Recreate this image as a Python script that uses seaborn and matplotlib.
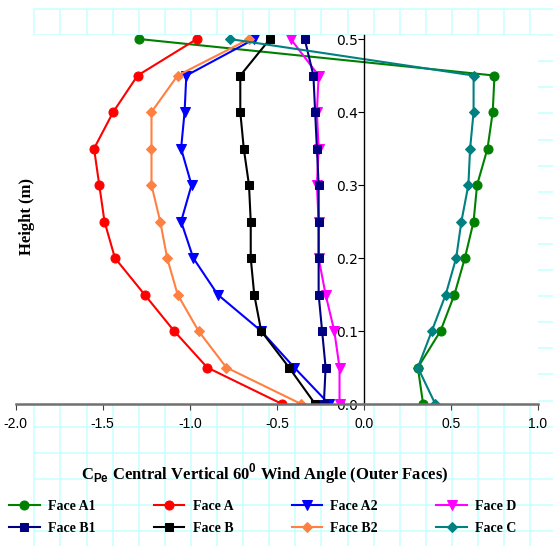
# Cpe profiles - central vertical line, 60 deg wind angle, outer faces

import numpy as np
import pandas as pd
import seaborn as sns
import matplotlib.pyplot as plt

# Data (height in m, Cpe values)
height = [0.0, 0.05, 0.10, 0.15, 0.20, 0.25, 0.30, 0.35, 0.40, 0.45, 0.50]

face_a1 = [0.34, 0.31, 0.44, 0.52, 0.58, 0.63, 0.65, 0.71, 0.74, 0.75, -1.29]
face_a = [-0.47, -0.90, -1.09, -1.26, -1.43, -1.49, -1.52, -1.55, -1.44, -1.30, -0.96]
face_a2 = [-0.20, -0.40, -0.59, -0.84, -0.98, -1.05, -0.99, -1.05, -1.03, -1.02, -0.63]
face_d = [-0.14, -0.14, -0.17, -0.22, -0.26, -0.26, -0.27, -0.26, -0.27, -0.26, -0.42]
face_b1 = [-0.23, -0.22, -0.24, -0.26, -0.26, -0.26, -0.26, -0.27, -0.28, -0.29, -0.34]
face_b = [-0.28, -0.43, -0.59, -0.63, -0.65, -0.65, -0.66, -0.69, -0.71, -0.71, -0.54]
face_b2 = [-0.36, -0.79, -0.95, -1.07, -1.13, -1.17, -1.22, -1.22, -1.22, -1.07, -0.66]
face_c = [0.41, 0.31, 0.39, 0.47, 0.53, 0.56, 0.60, 0.61, 0.63, 0.63, -0.77]

faces = ["Face A1", "Face A", "Face A2", "Face D", "Face B1", "Face B", "Face B2", "Face C"]
values = [face_a1, face_a, face_a2, face_d, face_b1, face_b, face_b2, face_c]
colors = ["#008000", "#FF0000", "#0000FF", "#FF00FF", "#000080", "#000000", "#FF8040", "#008080"]
markers = ["o", "o", "v", "v", "s", "s", "D", "D"]

df = pd.DataFrame({
    "face": np.repeat(faces, len(height)),
    "height": height * len(faces),
    "cpe": np.concatenate(values),
})

serif = "Liberation Serif"
plt.rcParams["mathtext.fontset"] = "custom"
plt.rcParams["mathtext.rm"] = "Liberation Sans:bold"

fig = plt.figure(figsize=(5.53, 5.46), dpi=100)

# graph-paper background behind the chart
bg = fig.add_axes([0, 0, 1, 1])
bg.set_xlim(0, 553)
bg.set_ylim(546, 0)
bg.axis("off")
bg.vlines(np.arange(34.3, 553, 26.1), 9, 546, color="#CCFFFF", lw=1.2)
bg.hlines(np.arange(9, 546, 26.1), 34.3, 553, color="#CCFFFF", lw=1.2)

ax = fig.add_axes([15.7 / 553, 142 / 546, 522.3 / 553, 368.6 / 546])
ax.set_facecolor("white")

sizes = {"o": 6.5, "v": 6.5, "s": 6, "D": 5.5}
handles = {}
for face, col, mk in zip(faces, colors, markers):
    sub = df[df["face"] == face]
    sns.lineplot(data=sub, x="cpe", y="height", sort=False, estimator=None,
                 color=col, marker=mk, markersize=sizes[mk], markeredgecolor=col,
                 lw=1.5, ax=ax, label=face, legend=False)
    handles[face] = ax.lines[-1]

ax.set_xlim(-2.0, 1.0)
ax.set_ylim(0, 0.505)
ax.set_xticks(np.arange(-2.0, 1.01, 0.5))
ax.set_xticklabels([f"{v:.1f}" for v in np.arange(-2.0, 1.01, 0.5)],
                   family="Liberation Sans", fontsize=10)
ax.set_yticks(np.arange(0, 0.51, 0.1))
ax.set_yticklabels([f"{v:.1f}" for v in np.arange(0, 0.51, 0.1)],
                   family=serif, fontsize=14)
ax.tick_params(axis="x", length=4, pad=5, color="#404040")
ax.tick_params(axis="y", length=4, pad=0.5)

ax.spines["top"].set_visible(False)
ax.spines["right"].set_visible(False)
ax.spines["left"].set_position(("data", 0))
ax.spines["left"].set_linewidth(1.0)
ax.spines["bottom"].set_color("#707070")
ax.spines["bottom"].set_linewidth(1.8)
ax.set_xlabel("")
ax.set_ylabel("")

fig.text(27 / 553, 1 - 217 / 546, "Height (m)", rotation=90, ha="center", va="center",
         family=serif, fontweight="bold", fontsize=12)
fig.text(265 / 553, 1 - 474 / 546,
         r"C$_{\mathrm{Pe}}$ Central Vertical 60$^{\mathrm{0}}$ Wind Angle (Outer Faces)",
         ha="center", va="center", family=serif, fontweight="bold", fontsize=12)

order = ["Face A1", "Face B1", "Face A", "Face B", "Face A2", "Face B2", "Face D", "Face C"]
fig.legend([handles[f] for f in order], order, ncol=4, loc="upper left",
           bbox_to_anchor=(9 / 553, 1 - 500 / 546), frameon=False,
           prop={"family": serif, "weight": "bold", "size": 10},
           handlelength=2.2, handletextpad=0.6, columnspacing=4.2,
           labelspacing=0.65, borderpad=0, borderaxespad=0)

fig.savefig("out.png", dpi=100)
